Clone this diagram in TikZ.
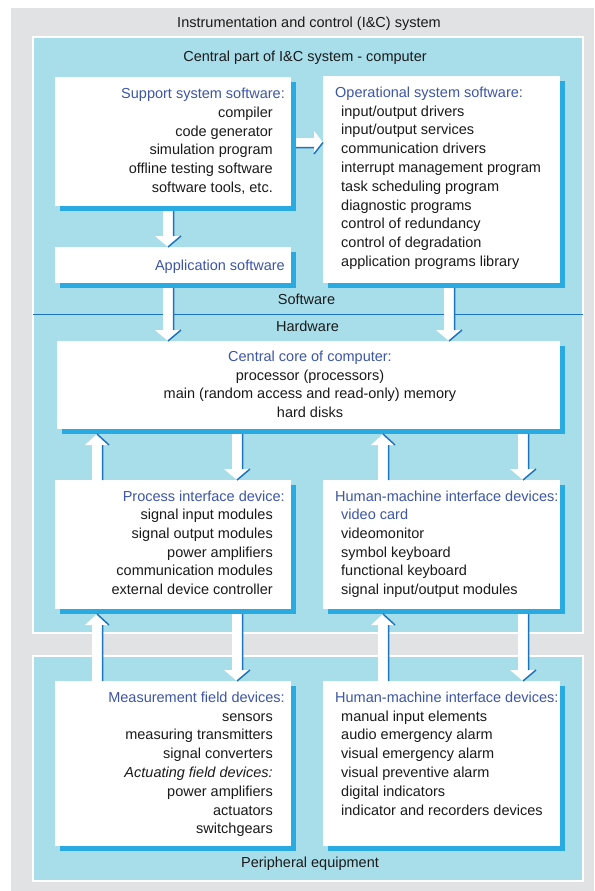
\documentclass[tikz,border=0pt]{standalone}
\usepackage{fontspec}
\setmainfont{Liberation Sans}
\usetikzlibrary{calc,shadows}

\definecolor{panelgray}{HTML}{E1E2E4}
\definecolor{panelcyan}{HTML}{A8DEEA}
\definecolor{shadowblue}{HTML}{29ABE2}
\definecolor{edgeblue}{HTML}{1C75BC}
\definecolor{titleblue}{HTML}{3D56A6}
\definecolor{ink}{HTML}{1A1A1A}

\tikzset{
  panel/.style={fill=panelcyan, draw=white, line width=1.2pt},
  card/.style={fill=white, draw=none, inner sep=0pt, outer sep=0pt, anchor=north west,
    drop shadow={shadow xshift=5pt, shadow yshift=-5pt, fill=shadowblue, opacity=1}},
  ttl/.style={text=titleblue, inner sep=0pt},
  itm/.style={text=ink, inner sep=0pt},
  edge/.style={draw=edgeblue, line width=1.5pt},
}

% block arrow pointing down: from under the shadow of #2 to the top of #3, centred at x=#1
\newcommand\pipeDown[3]{%
  \fill[white] let \p1=(#2.south), \p2=(#3.north) in
    (#1pt-5pt,\y1-5pt) -- (#1pt+5pt,\y1-5pt) -- (#1pt+5pt,\y2+11pt)
    -- (#1pt+13pt,\y2+11pt) -- (#1pt,\y2) -- (#1pt-13pt,\y2+11pt)
    -- (#1pt-5pt,\y2+11pt) -- cycle;
  \draw[edge] let \p1=(#2.south), \p2=(#3.north) in
    (#1pt+5.7pt,\y1-5pt) -- (#1pt+5.7pt,\y2+11pt)
    (#1pt+13pt,\y2+11pt) -- (#1pt,\y2);
}
% block arrow pointing up: from the top of #2 to the shadow of #3, centred at x=#1
\newcommand\pipeUp[3]{%
  \fill[white] let \p1=(#2.north), \p2=(#3.south) in
    (#1pt-5pt,\y1) -- (#1pt+5pt,\y1) -- (#1pt+5pt,\y2-16pt)
    -- (#1pt+12pt,\y2-16pt) -- (#1pt,\y2-5pt) -- (#1pt-12pt,\y2-16pt)
    -- (#1pt-5pt,\y2-16pt) -- cycle;
  \draw[edge] let \p1=(#2.north), \p2=(#3.south) in
    (#1pt+5.7pt,\y1) -- (#1pt+5.7pt,\y2-16pt)
    (#1pt,\y2-5pt) -- (#1pt+12pt,\y2-16pt);
}
% block arrow pointing right: from the shadow of #2 to the left side of #3, at height y=#1
\newcommand\pipeRight[3]{%
  \fill[white] let \p1=(#2.east), \p2=(#3.west) in
    (\x1+5pt,-#1pt+4.5pt) -- (\x2-9pt,-#1pt+4.5pt) -- (\x2-9pt,-#1pt+11.5pt)
    -- (\x2,-#1pt) -- (\x2-9pt,-#1pt-11.5pt) -- (\x2-9pt,-#1pt-4.5pt)
    -- (\x1+5pt,-#1pt-4.5pt) -- cycle;
  \draw[edge] let \p1=(#2.east), \p2=(#3.west) in
    (\x1+5pt,-#1pt-5.2pt) -- (\x2-9pt,-#1pt-5.2pt)
    (\x2,-#1pt) -- (\x2-9pt,-#1pt-11.5pt);
}

\begin{document}
\begin{tikzpicture}[x=1pt, y=-1pt, font=\fontsize{14.5}{18.8}\selectfont]
\useasboundingbox (0,0) rectangle (594,891);

% background panels
\fill[panelgray] (11,8) rectangle (594,891);
\draw[panel] (33,37) rectangle (583,633);
\draw[panel] (33,656) rectangle (583,881);
\draw[edgeblue, line width=0.9pt] (33,314) -- (583,314);

\node[itm, anchor=base] (ics) at (309,28) {Instrumentation and control (I\&C) system};
\node[itm, anchor=base] (cpu) at (305,62) {Central part of I\&C system - computer};
\node[itm, anchor=base] (sw) at (306.5,304) {Software};
\node[itm, anchor=base] (hw) at (307.5,331) {Hardware};
\node[itm, anchor=base] (per) at (310,867) {Peripheral equipment};

% boxes
\node[card, minimum width=236pt, minimum height=129pt] (sup) at (55,77) {};
\node[card, minimum width=236pt, minimum height=36pt]  (app) at (55,247) {};
\node[card, minimum width=237pt, minimum height=207pt] (ops) at (323,76) {};
\node[card, minimum width=503pt, minimum height=88pt]  (core) at (57,341) {};
\node[card, minimum width=236pt, minimum height=129pt] (pid) at (55,480) {};
\node[card, minimum width=237pt, minimum height=129pt] (hmi) at (323,480) {};
\node[card, minimum width=236pt, minimum height=165pt] (mfd) at (55,681) {};
\node[card, minimum width=237pt, minimum height=165pt] (hmp) at (323,681) {};

% arrows
\pipeDown{168}{sup}{app}
\pipeDown{168}{app}{core}
\pipeRight{142.5}{sup}{ops}
\pipeDown{449}{ops}{core}
\pipeUp{97}{pid}{core}
\pipeDown{237}{core}{pid}
\pipeUp{383}{hmi}{core}
\pipeDown{523}{core}{hmi}
\pipeUp{97}{mfd}{pid}
\pipeDown{237}{pid}{mfd}
\pipeUp{383}{hmp}{hmi}
\pipeDown{523}{hmi}{hmp}

% support system software
\node[ttl, anchor=base east] (supt) at (285,98) {Support system software:};
\foreach \t [count=\i from 0] in {compiler, code generator, simulation program,
    offline testing software, {software tools, etc.}}
  \node[itm, anchor=base east] (sup-\i) at (273,{117.3+18.8*\i}) {\t};

% application software
\node[ttl, anchor=base east] (appt) at (285,270) {Application software};

% operational system software
\node[ttl, anchor=base west] (opst) at (335,97) {Operational system software:};
\foreach \t [count=\i from 0] in {input/output drivers, input/output services,
    communication drivers, interrupt management program, task scheduling program,
    diagnostic programs, control of redundancy, control of degradation,
    application programs library}
  \node[itm, anchor=base west] (ops-\i) at (341,{116+18.8*\i}) {\t};

% central core
\node[ttl, anchor=base] (coret) at (310,361) {Central core of computer:};
\foreach \t [count=\i from 0] in {processor (processors),
    main (random access and read-only) memory, hard disks}
  \node[itm, anchor=base] (core-\i) at (310,{380+18.8*\i}) {\t};

% process interface device
\node[ttl, anchor=base east] (pidt) at (285,501) {Process interface device:};
\foreach \t [count=\i from 0] in {signal input modules, signal output modules,
    power amplifiers, communication modules, external device controller}
  \node[itm, anchor=base east] (pid-\i) at (273,{519.5+18.8*\i}) {\t};

% human-machine interface devices (hardware)
\node[ttl, anchor=base west] (hmit) at (335,501) {Human-machine interface devices:};
\node[ttl, anchor=base west] (hmi-0) at (341,519.5) {video card};
\foreach \t [count=\i from 1] in {videomonitor, symbol keyboard,
    functional keyboard, signal input/output modules}
  \node[itm, anchor=base west] (hmi-\i) at (341,{519.5+18.8*\i}) {\t};

% measurement and actuating field devices
\node[ttl, anchor=base east] (mfdt) at (285,702) {Measurement field devices:};
\foreach \t [count=\i from 0] in {sensors, measuring transmitters,
    signal converters, \textit{Actuating field devices:}, power amplifiers,
    actuators, switchgears}
  \node[itm, anchor=base east] (mfd-\i) at (273,{721+18.8*\i}) {\t};

% human-machine interface devices (peripheral)
\node[ttl, anchor=base west] (hmpt) at (335,702) {Human-machine interface devices:};
\foreach \t [count=\i from 0] in {manual input elements, audio emergency alarm,
    visual emergency alarm, visual preventive alarm, digital indicators,
    indicator and recorders devices}
  \node[itm, anchor=base west] (hmp-\i) at (341,{721+18.8*\i}) {\t};
\end{tikzpicture}
\end{document}
